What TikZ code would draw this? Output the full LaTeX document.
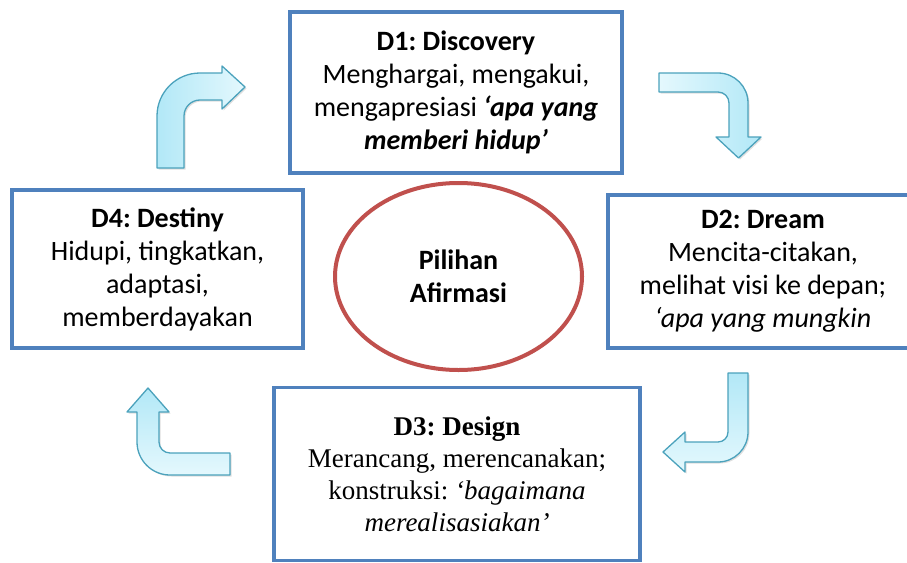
\documentclass[tikz,border=0pt]{standalone}
\usepackage{fontspec}
\setmainfont{Carlito}
\newfontfamily\timesfont{Liberation Serif}
\usetikzlibrary{shapes.geometric,shadows}
\frenchspacing

\definecolor{boxblue}{RGB}{79,129,189}
\definecolor{ovalred}{RGB}{192,80,77}
\definecolor{arrowline}{RGB}{75,162,188}
\definecolor{arrowdark}{RGB}{178,232,247}
\definecolor{arrowlight}{RGB}{228,248,253}

\begin{document}
\begin{tikzpicture}[x=1pt, y=-1pt]
\tikzset{ stage/.style={draw=boxblue, line width=3.5pt, fill=white, align=center,
                        inner sep=0pt, font=\fontsize{28}{33}\selectfont},
          bent/.style={draw=arrowline, line width=1.3pt, line join=round,
                       drop shadow={opacity=0.25, shadow xshift=1.5pt, shadow yshift=-1.5pt}},
        }

\useasboundingbox (0,0) rectangle (907,562);
\clip (0,0) rectangle (907,562);

%\draw [lightgray, dashed] (0,0) grid[step=50] (907,562);

\node [stage, minimum width=332pt, minimum height=161pt] (D1) at (456,92.5)
      {\textbf{D1: Discovery}\\Menghargai, mengakui,\\mengapresiasi \textbf{\textit{‘apa yang}}\\\textbf{\textit{memberi hidup’}}};
\node [stage, minimum width=310pt, minimum height=153pt] (D2) at (763,271.5)
      {\textbf{D2: Dream}\\Mencita-citakan,\\melihat visi ke depan;\\\textit{‘apa yang mungkin}};
\node [stage, minimum width=366pt, minimum height=173pt, font=\timesfont\fontsize{27}{32}\selectfont] (D3) at (457,474)
      {\textbf{D3: Design}\\Merancang, merencanakan;\\konstruksi: \textit{‘bagaimana}\\\textit{merealisasiakan’}};
\node [stage, minimum width=291pt, minimum height=158pt] (D4) at (157.5,269)
      {\textbf{D4: Destiny}\\Hidupi, tingkatkan,\\adaptasi,\\memberdayakan};

\node [ellipse, draw=ovalred, line width=4pt, minimum width=247pt, minimum height=187pt,
       align=center, font=\bfseries\fontsize{28}{33}\selectfont] (P) at (458.5,276.5) {Pilihan\\Afirmasi};

% D4 -> D1
\draw [bent, left color=arrowdark, right color=arrowlight]
      (157,168) -- (157,116) arc[start angle=180, end angle=270, radius=43] -- (222,73) -- (222,66)
      -- (245,87) -- (222,109) -- (222,100) -- (200,100) arc[start angle=270, end angle=180, radius=16]
      -- (184,168) -- cycle;
% D1 -> D2
\draw [bent, left color=arrowlight, right color=arrowdark]
      (659,73) -- (718,73) arc[start angle=270, end angle=360, radius=30] -- (748,137) -- (761,137)
      -- (738.5,158) -- (716,137) -- (729,137) -- (729,103) arc[start angle=0, end angle=-90, radius=11]
      -- (659,92) -- cycle;
% D2 -> D3
\draw [bent, top color=arrowdark, bottom color=arrowlight]
      (728,373) -- (748,373) -- (748,432) arc[start angle=0, end angle=90, radius=30] -- (685,462)
      -- (685,472) -- (663,452) -- (685,432) -- (685,442) -- (718,442) arc[start angle=90, end angle=0, radius=10]
      -- cycle;
% D3 -> D4
\draw [bent, top color=arrowdark, bottom color=arrowlight]
      (230,475) -- (170,475) arc[start angle=90, end angle=180, radius=33] -- (137,412) -- (127,412)
      -- (148,388) -- (169,412) -- (159,412) -- (159,442) arc[start angle=180, end angle=90, radius=11]
      -- (230,453) -- cycle;

\end{tikzpicture}
\end{document}
